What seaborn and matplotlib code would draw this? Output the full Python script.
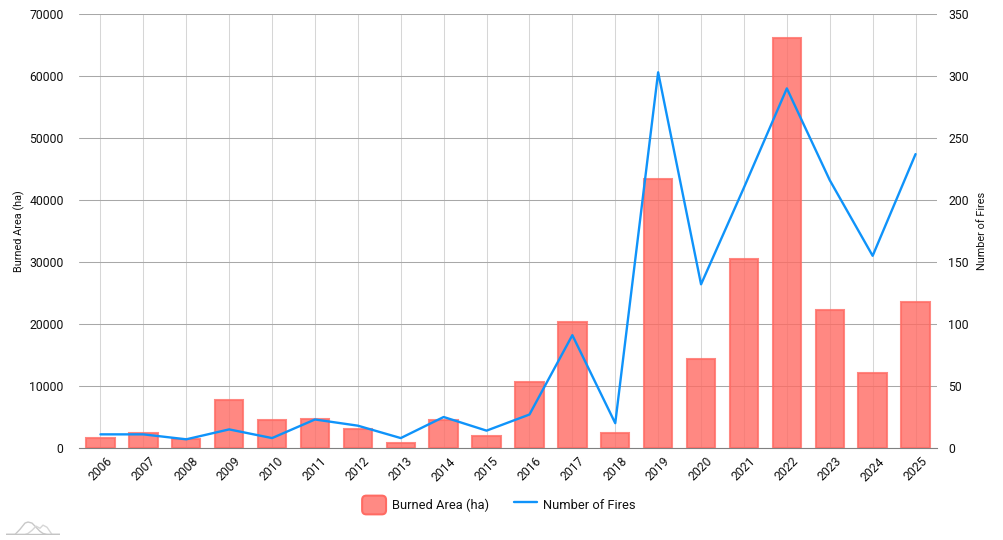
import matplotlib
matplotlib.use('Agg')
import matplotlib.pyplot as plt
import seaborn as sns
import pandas as pd
from matplotlib.lines import Line2D
from matplotlib.patches import FancyBboxPatch, Patch
from matplotlib.legend_handler import HandlerPatch

years = list(range(2006, 2026))
burned_area = [1600, 2500, 1500, 7800, 4500, 4700, 3100, 800, 4500, 1900,
               10600, 20400, 2400, 43400, 14400, 30500, 66200, 22200, 12100, 23600]
n_fires = [11, 11, 7, 15, 8, 23, 18, 8, 25, 14,
           27, 91, 20, 303, 132, 210, 290, 216, 155, 237]

# watermark outline, bottom left
logo_x = [0, 9, 14, 19, 22, 26, 30, 34, 37, 41, 46, 54]
logo_a = [0, 0, 5, 11, 12, 11, 7, 3, 1, 0, 0, 0]
logo_b = [0, 0, 0, 0, 1, 4, 8, 6, 9, 7, 0, 0]

RED_FILL = '#ff6b63'
RED_EDGE = '#ff6b63'
BLUE = '#0f93fa'
TEXT = '#111111'

sns.set_theme(style='white')
plt.rcParams['font.family'] = ['Roboto', 'DejaVu Sans']

df = pd.DataFrame({'year': [str(y) for y in years], 'area': burned_area, 'fires': n_fires})

fig = plt.figure(figsize=(10.04, 5.40), dpi=100)
ax = fig.add_axes([79 / 1004, 1 - 448 / 540, 858 / 1004, 434 / 540])

sns.barplot(data=df, x='year', y='area', ax=ax, width=0.66, color=RED_FILL, saturation=1,
            alpha=0.8, edgecolor=RED_EDGE, linewidth=1.5)
for bar in ax.patches:
    bar.set_edgecolor((1.0, 0.42, 0.39, 0.95))
# seaborn switches the category grid off, so the grid goes on after the bars
ax.set_axisbelow(True)
ax.grid(True, axis='y', color='#a8a8a8', lw=0.75)
ax.grid(True, axis='x', color='#d6d6d6', lw=0.75)
ax.set_xlim(-0.5, 19.5)
ax.set_ylim(0, 70000)
ax.set_yticks(range(0, 70001, 10000))
ax.set_xlabel('')
ax.set_ylabel('Burned Area (ha)', fontsize=7.8, color=TEXT, labelpad=3)
ax.tick_params(axis='y', length=0, labelsize=8.8, labelcolor=TEXT, pad=11)
ax.tick_params(axis='x', length=0, labelsize=8.8, labelcolor=TEXT, pad=5)
plt.setp(ax.get_xticklabels(), rotation=45, ha='center', rotation_mode='default')

ax2 = ax.twinx()
sns.lineplot(data=df, x='year', y='fires', ax=ax2, color=BLUE, lw=1.7, sort=False, errorbar=None)
ax2.set_ylim(0, 350)
ax2.set_yticks(range(0, 351, 50))
ax2.set_ylabel('Number of Fires', fontsize=7.8, color=TEXT, labelpad=6)
ax2.tick_params(axis='y', length=0, labelsize=8.8, labelcolor=TEXT, pad=8)

sns.despine(ax=ax, left=True, right=True, top=True)
sns.despine(ax=ax2, left=True, right=True, top=True)
ax.spines['bottom'].set_color('#808080')
ax.spines['bottom'].set_linewidth(0.8)
ax2.spines['bottom'].set_visible(False)


class RoundedHandler(HandlerPatch):
    def create_artists(self, legend, orig_handle, xdescent, ydescent, width, height, fontsize, trans):
        p = FancyBboxPatch((-xdescent + 2, -ydescent + 2), width - 4, height - 4,
                           boxstyle='round,pad=2,rounding_size=3',
                           facecolor='#ff8a84', edgecolor=RED_EDGE, lw=1.5, transform=trans)
        return [p]


patch_handle = Patch(label='Burned Area (ha)')
line_handle = Line2D([], [], color=BLUE, lw=1.7, label='Number of Fires')
fig.legend(handles=[patch_handle, line_handle], loc='center', bbox_to_anchor=(499 / 1004, 1 - 505 / 540),
           ncol=2, frameon=False, fontsize=9.3, labelcolor=TEXT, handlelength=1.85, handleheight=1.85,
           handletextpad=0.45, columnspacing=1.9, handler_map={Patch: RoundedHandler()})

logo = fig.add_axes([6 / 1004, 1 - 535 / 540, 54 / 1004, 14 / 540])
logo.plot(logo_x, logo_a, color='#c8c8c8', lw=1.0)
logo.plot(logo_x, logo_b, color='#d6d6d6', lw=1.0)
logo.axhline(0, color='#c4c4c4', lw=1.0)
logo.set_xlim(0, 54)
logo.set_ylim(-0.5, 13)
logo.axis('off')

fig.savefig('out.png', dpi=100)
